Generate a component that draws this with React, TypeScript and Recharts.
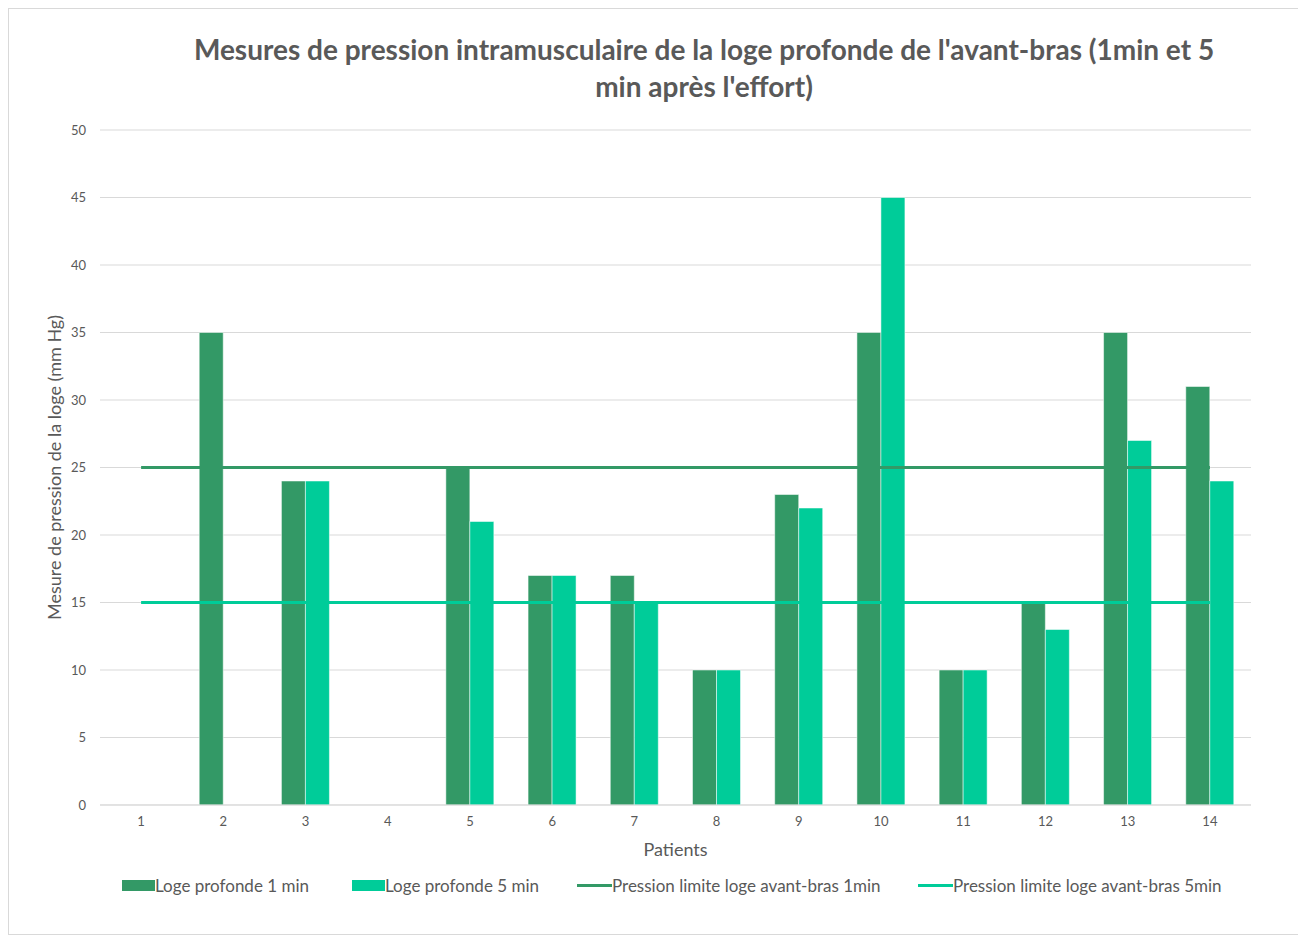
import React from 'react';
import { ComposedChart, Bar, Line, XAxis, YAxis, CartesianGrid, Legend, Label } from 'recharts';

const patients = ['1', '2', '3', '4', '5', '6', '7', '8', '9', '10', '11', '12', '13', '14'];
const loge1min = [0, 35, 24, 0, 25, 17, 17, 10, 23, 35, 10, 15, 35, 31];
const loge5min = [0, 0, 24, 0, 21, 17, 15, 10, 22, 45, 10, 13, 27, 24];
const limite1min = [25, 25, 25, 25, 25, 25, 25, 25, 25, 25, 25, 25, 25, 25];
const limite5min = [15, 15, 15, 15, 15, 15, 15, 15, 15, 15, 15, 15, 15, 15];
const yTicks = [0, 5, 10, 15, 20, 25, 30, 35, 40, 45, 50];

const data = patients.map((p, i) => ({
  patient: p,
  loge1: loge1min[i],
  loge5: loge5min[i],
  lim1: limite1min[i],
  lim5: limite5min[i],
}));

const DARK = '#339966';
const LIGHT = '#00CC99';
const TEXT = '#595959';
const FONT = 'Lato, "Liberation Sans", sans-serif';

// legend items placed like the original (x positions in chart px)
const legendPos = [113, 343, 568, 909];

const renderLegend = (props: any) => {
  const items = props.payload || [];
  return (
    <div style={{ position: 'relative', height: 24, fontFamily: FONT, fontSize: 17, color: TEXT }}>
      {items.map((it: any, i: number) => (
        <div
          key={it.value}
          style={{ position: 'absolute', left: legendPos[i], top: 0, display: 'flex', alignItems: 'center', whiteSpace: 'nowrap' }}
        >
          {it.type === 'line' ? (
            <span style={{ display: 'inline-block', width: 35, height: 3, background: it.color }} />
          ) : (
            <span style={{ display: 'inline-block', width: 33, height: 11, background: it.color }} />
          )}
          <span>{it.value}</span>
        </div>
      ))}
    </div>
  );
};

export default function App() {
  return (
    <div
      style={{
        position: 'relative',
        width: 1296,
        height: 925,
        border: '1px solid #d9d9d9',
        background: '#fff',
        fontFamily: FONT,
      }}
    >
      <div
        style={{
          position: 'absolute',
          top: 22,
          left: 0,
          width: 1390,
          textAlign: 'center',
          fontSize: 28,
          fontWeight: 700,
          color: TEXT,
          lineHeight: '37px',
        }}
      >
        Mesures de pression intramusculaire de la loge profonde de l'avant-bras (1min et 5
        <br />
        min après l'effort)
      </div>
      <ComposedChart
        width={1296}
        height={925}
        data={data}
        margin={{ top: 121, right: 54, bottom: 69, left: 0 }}
        barGap={0}
        style={{ position: 'absolute', top: 0, left: 0 }}
      >
        <CartesianGrid vertical={false} stroke="#d9d9d9" />
        <XAxis
          dataKey="patient"
          tickLine={false}
          stroke="#d9d9d9"
          tick={{ fill: TEXT, fontSize: 13, fontFamily: FONT }}
          tickSize={0}
          tickMargin={12}
          height={60}
        >
          <Label value="Patients" position="insideBottom" offset={9} fill={TEXT} fontSize={18} fontFamily={FONT} />
        </XAxis>
        <YAxis
          domain={[0, 50]}
          ticks={yTicks}
          axisLine={false}
          tickLine={false}
          tickSize={0}
          tickMargin={14}
          width={91}
          tick={{ fill: TEXT, fontSize: 13, fontFamily: FONT }}
        >
          <Label
            value="Mesure de pression de la loge (mm Hg)"
            angle={-90}
            position="insideLeft"
            offset={46}
            fill={TEXT}
            fontSize={18}
            fontFamily={FONT}
            style={{ textAnchor: 'middle' }}
          />
        </YAxis>
        <Legend
          verticalAlign="middle"
          align="center"
          layout="horizontal"
          wrapperStyle={{ top: 866, left: 0, width: 1296 }}
          content={renderLegend}
        />
        <Bar dataKey="loge1" name="Loge profonde 1 min" fill={DARK} barSize={24} stroke="#ffffff" strokeOpacity={0.5} strokeWidth={1} isAnimationActive={false} />
        <Bar dataKey="loge5" name="Loge profonde 5 min" fill={LIGHT} barSize={24} stroke="#ffffff" strokeOpacity={0.5} strokeWidth={1} isAnimationActive={false} />
        <Line dataKey="lim1" name="Pression limite loge avant-bras 1min" stroke={DARK} strokeWidth={3} dot={false} legendType="line" isAnimationActive={false} />
        <Line dataKey="lim5" name="Pression limite loge avant-bras 5min" stroke={LIGHT} strokeWidth={3} dot={false} legendType="line" isAnimationActive={false} />
      </ComposedChart>
    </div>
  );
}
